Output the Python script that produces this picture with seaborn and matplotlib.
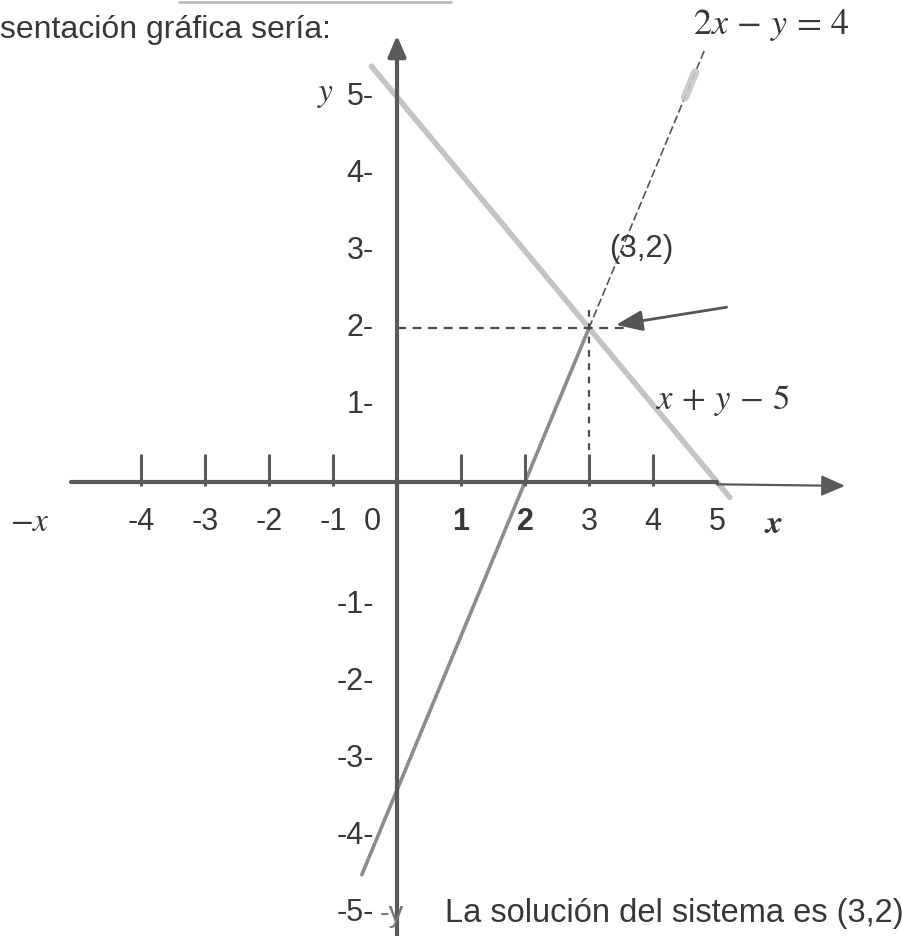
import numpy as np
import pandas as pd
import matplotlib
matplotlib.use("Agg")
import matplotlib.pyplot as plt
import seaborn as sns

# System:  x + y = 5   and   2x - y = 4
solution = (3, 2)
line1_x = [-0.4, 5.2]            # drawn extent of x + y = 5
line2_solid_x = [-0.55, 3.0]     # 2x - y = 4, solid part
line2_dashed_x = [3.0, 4.8]      # 2x - y = 4, dashed part above the solution
x_tick_values = [-4, -3, -2, -1, 1, 2, 3, 4]
x_label_values = [-4, -3, -2, -1, 1, 2, 3, 4, 5]
y_label_values = [5, 4, 3, 2, 1, -1, -2, -3, -4, -5]

def line1(x):
    return 5 - np.asarray(x, dtype=float)

def line2(x):
    return 2 * np.asarray(x, dtype=float) - 4

sns.set_theme(style="white")
plt.rcParams["font.family"] = ["Liberation Sans", "DejaVu Sans"]
plt.rcParams["mathtext.fontset"] = "stix"

TEXT = "#383838"
AXIS = "#5a5a5a"
FS = 22

fig = plt.figure(figsize=(9.03, 9.36), dpi=100)
ax = fig.add_axes([0, 0, 1, 1])
ax.set_xlim(-6.203, 7.906)
ax.set_ylim(-5.896, 6.26)
ax.axis("off")

# the two lines of the system
df1 = pd.DataFrame({"x": line1_x, "y": line1(line1_x)})
sns.lineplot(data=df1, x="x", y="y", ax=ax, color="#c4c4c4", lw=4, solid_capstyle="round")

df2 = pd.DataFrame({"x": line2_solid_x, "y": line2(line2_solid_x)})
sns.lineplot(data=df2, x="x", y="y", ax=ax, color="#8c8c8c", lw=2.6)

df2d = pd.DataFrame({"x": line2_dashed_x, "y": line2(line2_dashed_x)})
sns.lineplot(data=df2d, x="x", y="y", ax=ax, color="#555555", lw=1.2,
             linestyle=(0, (5, 2)))
hx = [4.5, 4.66]
ax.plot(hx, line2(hx), color="#c8c8c8", lw=6, solid_capstyle="round", alpha=0.9)

# coordinate axes
ax.annotate("", xy=(0, 5.8), xytext=(0, -5.95),
            arrowprops=dict(arrowstyle="-|>,head_length=0.7,head_width=0.3",
                            lw=3, color=AXIS, mutation_scale=18, shrinkA=0, shrinkB=0))
ax.plot([-5.1, 5.0], [0, 0], color=AXIS, lw=3, solid_capstyle="round")
ax.annotate("", xy=(7.0, -0.05), xytext=(5.0, -0.03),
            arrowprops=dict(arrowstyle="-|>,head_length=0.8,head_width=0.35",
                            lw=1.6, color=AXIS, mutation_scale=18, shrinkA=0, shrinkB=0))
ax.vlines(x_tick_values, -0.05, 0.36, color=AXIS, lw=2.2)

# guides to the solution point
sx, sy = solution
ax.hlines(sy, 0, sx + 0.55, color="#4a4a4a", lw=1.6, linestyles=(0, (4, 3)))
ax.vlines(sx, 0.42, sy + 0.26, color="#4a4a4a", lw=1.6, linestyles=(0, (3, 3)))
ax.annotate("", xy=(sx + 0.42, sy + 0.04), xytext=(sx + 2.15, sy + 0.27),
            arrowprops=dict(arrowstyle="-|>,head_length=0.9,head_width=0.35",
                            lw=2, color="#555555", mutation_scale=18, shrinkA=0, shrinkB=0))
ax.text(sx + 0.32, sy + 1.02, f"({sx},{sy})", fontsize=FS + 0.5, color=TEXT,
        ha="left", va="center")

# tick labels
for v in y_label_values:
    yy = v if v > 0 else v - 0.6
    ax.text(-0.36, yy, f"{v}-", fontsize=FS, color=TEXT, ha="right", va="center")
for v in x_label_values:
    ax.text(v, -0.52, str(v), fontsize=FS, color=TEXT, ha="center", va="center",
            fontweight="bold" if v in (1, 2) else "normal")
ax.text(-0.38, -0.52, "0", fontsize=FS, color=TEXT, ha="center", va="center")

# axis names
ax.text(-5.73, -0.52, r"$-x$", fontsize=24, color=TEXT, ha="center", va="center")
ax.text(5.88, -0.55, r"$\boldsymbol{x}$", fontsize=24, color=TEXT, ha="center", va="center")
ax.text(-1.12, 5.03, r"$y$", fontsize=24, color=TEXT, ha="center", va="center")
ax.text(-0.27, -5.61, "-y", fontsize=FS - 1, color="#777777", ha="left", va="center")

# equation labels
ax.text(4.63, 5.94, r"$2x\,-\,y\,=\,4$", fontsize=26, color=TEXT, ha="left", va="center")
ax.text(4.05, 1.06, r"$x\,+\,y\,-\,5$", fontsize=25, color=TEXT, ha="left", va="center")

# surrounding text
ax.text(-6.2, 5.87, "sentación gráfica sería:", fontsize=23, color=TEXT,
        ha="left", va="center")
ax.plot([-3.4, 0.85], [6.24, 6.24], color="#bdbdbd", lw=2)
ax.text(0.75, -5.61, "La solución del sistema es (3,2)", fontsize=23.5, color=TEXT,
        ha="left", va="center")

fig.savefig("out.png", dpi=100)
